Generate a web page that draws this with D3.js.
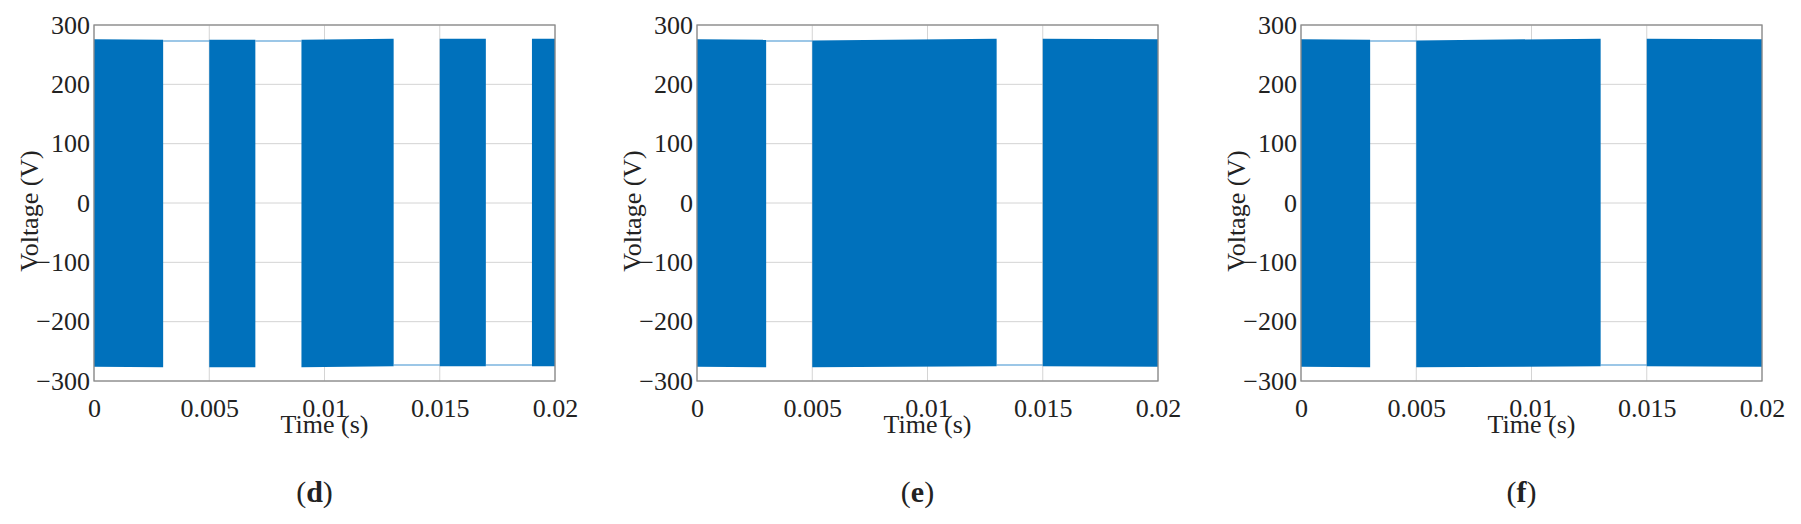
<!DOCTYPE html>
<html>
<head>
<meta charset="utf-8">
<script src="https://cdn.jsdelivr.net/npm/d3@7"></script>
<style>
  body { margin: 0; background: #fff; }
  text { font-family: "Liberation Serif", "DejaVu Serif", serif; fill: #222; }
</style>
</head>
<body>
<div id="chart"></div>
<script>
const svgWidth = 1801;
const svgHeight = 524;

// panel letters
const panelNames = ["d", "e", "f"];

// blue bands: [t start, t end, top start, top end, bottom start, bottom end]
const bandsD = [
  [0, 0.003, 276, 275, -276, -277],
  [0.005, 0.007, 275, 275, -277, -277],
  [0.009, 0.013, 275, 277, -277, -275],
  [0.015, 0.017, 277, 277, -275, -275],
  [0.019, 0.02, 277, 277, -275, -275]
];
const bandsE = [
  [0, 0.003, 276, 275, -276, -277],
  [0.005, 0.013, 274, 277, -277, -275],
  [0.015, 0.02, 277, 276, -275, -276]
];
const bandsF = bandsE;

// thin lines in the gaps: [t start, t end, value]
const gapsD = [
  [0.003, 0.005, 273], [0.007, 0.009, 273],
  [0.013, 0.015, -273], [0.017, 0.019, -273]
];
const gapsE = [[0.003, 0.005, 273], [0.013, 0.015, -273]];
const gapsF = gapsE;

const xTicks = [0, 0.005, 0.01, 0.015, 0.02];
const yTicks = [-300, -200, -100, 0, 100, 200, 300];

const panelLefts = [94, 697, 1301];
const plotW = 461;
const plotTop = 25, plotBottom = 381;
const blue = "#0071bc";

var svg = d3.select("#chart").append("svg")
  .attr("width", svgWidth)
  .attr("height", svgHeight);

var y = d3.scaleLinear().domain([-300, 300]).range([plotBottom, plotTop]);

function drawPanel(i, bands, gaps) {
  var left = panelLefts[i];
  var x = d3.scaleLinear().domain([0, 0.02]).range([left, left + plotW]);
  var g = svg.append("g");

  // grid
  g.selectAll(".gx").data(xTicks).enter().append("line")
    .attr("x1", d => x(d)).attr("x2", d => x(d))
    .attr("y1", plotTop).attr("y2", plotBottom)
    .attr("stroke", "#d4d4d4");
  g.selectAll(".gy").data(yTicks).enter().append("line")
    .attr("x1", x(0)).attr("x2", x(0.02))
    .attr("y1", d => y(d)).attr("y2", d => y(d))
    .attr("stroke", "#d4d4d4");

  // bands
  g.selectAll(".band").data(bands).enter().append("path")
    .attr("fill", blue)
    .attr("d", d => `M${x(d[0])},${y(d[2])}L${x(d[1])},${y(d[3])}L${x(d[1])},${y(d[5])}L${x(d[0])},${y(d[4])}Z`);

  // gap lines
  g.selectAll(".gap").data(gaps).enter().append("line")
    .attr("x1", d => x(d[0])).attr("x2", d => x(d[1]))
    .attr("y1", d => y(d[2])).attr("y2", d => y(d[2]))
    .attr("stroke", "#3a8fd0").attr("stroke-width", 1.2);

  // frame
  g.append("rect")
    .attr("x", x(0)).attr("y", plotTop)
    .attr("width", plotW).attr("height", plotBottom - plotTop)
    .attr("fill", "none").attr("stroke", "#8a8a8a").attr("stroke-width", 1.3);

  // axes
  var xAxis = d3.axisBottom(x).tickValues(xTicks).tickSize(0).tickPadding(18)
    .tickFormat(d => d === 0 ? "0" : String(+d.toFixed(3)));
  g.append("g").attr("transform", `translate(0,${plotBottom})`).call(xAxis)
    .call(a => a.select(".domain").remove())
    .selectAll("text").attr("font-size", 26).attr("fill", "#222")
    .attr("font-family", "Liberation Serif");

  var yAxis = d3.axisLeft(y).tickValues(yTicks).tickSize(0).tickPadding(4)
    .tickFormat(d => d < 0 ? "\u2212" + Math.abs(d) : d);
  g.append("g").attr("transform", `translate(${left},0)`).call(yAxis)
    .call(a => a.select(".domain").remove())
    .selectAll("text").attr("font-size", 26).attr("fill", "#222")
    .attr("font-family", "Liberation Serif");

  // labels
  var cx = left + plotW / 2;
  g.append("text").attr("x", cx).attr("y", 433)
    .attr("text-anchor", "middle").attr("font-size", 26).text("Time (s)");
  g.append("text")
    .attr("transform", `translate(${left - 56},${(plotTop + plotBottom) / 2 + 8}) rotate(-90)`)
    .attr("text-anchor", "middle").attr("font-size", 26).text("Voltage (V)");

  var lab = g.append("text").attr("x", cx - 10).attr("y", 502)
    .attr("text-anchor", "middle").attr("font-size", 30);
  lab.append("tspan").text("(");
  lab.append("tspan").attr("font-weight", "bold").text(panelNames[i]);
  lab.append("tspan").text(")");
}

drawPanel(0, bandsD, gapsD);
drawPanel(1, bandsE, gapsE);
drawPanel(2, bandsF, gapsF);
</script>
</body>
</html>
